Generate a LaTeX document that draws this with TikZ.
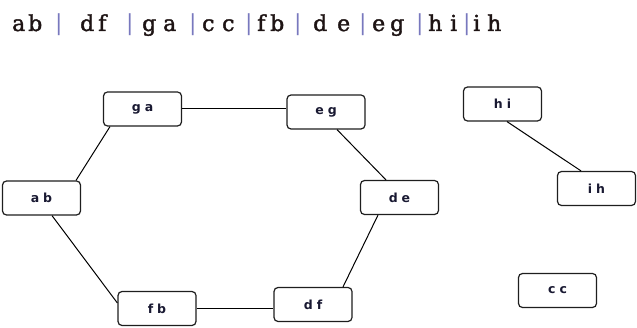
\documentclass[tikz,border=0pt]{standalone}
\usepackage{fontspec}
\newfontfamily\headfont[FakeBold=1.8]{DejaVu Serif}
\newfontfamily\barfont{DejaVu Serif}
\newfontfamily\boxfont{DejaVu Sans}
\definecolor{barcol}{RGB}{120,120,190}
\definecolor{txtcol}{RGB}{25,25,50}
\definecolor{headcol}{RGB}{30,20,20}
\definecolor{boxline}{RGB}{30,30,30}
\newcommand\cel[2]{\makebox[#1pt][l]{#2}}
\newcommand\bbar[1]{\makebox[#1pt][l]{\textcolor{barcol}{\barfont|}}}
\newcommand\pairtxt[2]{#1\hspace{4pt}#2}
\begin{document}
\begin{tikzpicture}[x=1pt,y=-1pt,
  vbox/.style={draw=boxline,line width=1.2pt,rounded corners=4pt,fill=white,
    minimum width=78pt,minimum height=34pt,inner sep=0pt,
    font=\boxfont\bfseries\fontsize{12.5}{14}\selectfont,text=txtcol},
  link/.style={draw=black,line width=1pt}]
\useasboundingbox (0,0) rectangle (637,328);
\node[anchor=base west,inner sep=0pt,text=headcol,font=\headfont\fontsize{22}{24}\selectfont] (head) at (12,31)
 {\cel{16}{a}\cel{27}{b}\bbar{25}\cel{18}{d}\cel{28}{f}\bbar{16}\cel{21}{g}\cel{26}{a}\bbar{13}\cel{20}{c}\cel{23}{c}\bbar{12}\cel{13}{f}\cel{24}{b}\bbar{19}\cel{24}{d}\cel{22}{e}\bbar{13}\cel{18}{e}\cel{26}{g}\bbar{12}\cel{22}{h}\cel{13}{i}\bbar{10}\cel{14}{i}h};
\node[vbox] (ga) at (142.5,109) {\pairtxt{g}{a}};
\node[vbox] (eg) at (326,112) {\pairtxt{e}{g}};
\node[vbox] (ab) at (41.5,198) {\pairtxt{a}{b}};
\node[vbox] (de) at (399.5,197.5) {\pairtxt{d}{e}};
\node[vbox] (fb) at (157,308.5) {\pairtxt{f}{b}};
\node[vbox] (df) at (313,304.5) {\pairtxt{d}{f}};
\node[vbox] (hi) at (502.5,104) {\pairtxt{h}{i}};
\node[vbox] (ih) at (596.5,188.5) {\pairtxt{i}{h}};
\node[vbox] (cc) at (557.5,290.5) {\pairtxt{c}{c}};
\draw[link] ([xshift=-32.5pt]ga.south) -- ([xshift=34.5pt]ab.north);
\draw[link] (ga.east) -- (ga.east -| eg.west);
\draw[link] ([xshift=11pt]eg.south) -- ([xshift=-13.5pt]de.north);
\draw[link] ([xshift=10.5pt]ab.south) -- ([yshift=5.5pt]fb.west);
\draw[link] (fb.east) -- (fb.east -| df.west);
\draw[link] ([xshift=-21.5pt]de.south) -- ([xshift=30pt]df.north);
\draw[link] ([xshift=4.5pt]hi.south) -- ([xshift=-15.5pt]ih.north);
\end{tikzpicture}
\end{document}
